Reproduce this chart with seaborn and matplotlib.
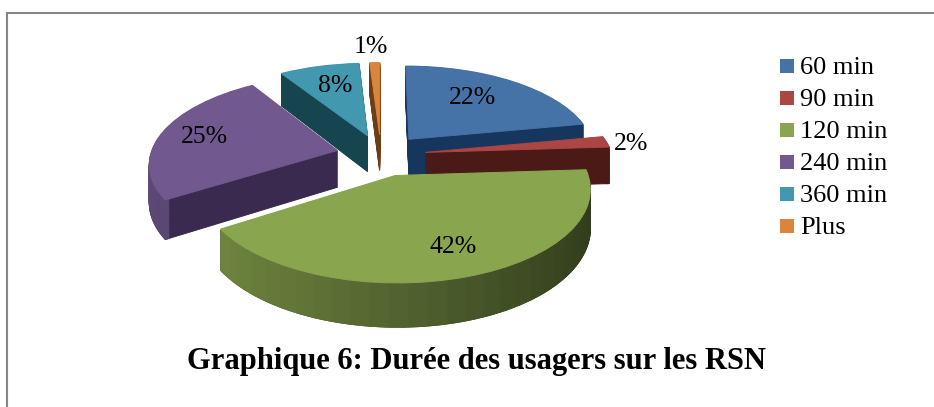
import matplotlib
matplotlib.use('Agg')
import numpy as np
import seaborn as sns
import matplotlib.pyplot as plt
from matplotlib.colors import to_rgb
from matplotlib.patches import Rectangle
from matplotlib.transforms import Transform

labels = ['60 min', '90 min', '120 min', '240 min', '360 min', 'Plus']
values = [22, 2, 42, 25, 8, 1]
pct_labels = ['22%', '2%', '42%', '25%', '8%', '1%']
colors = ['#4572A7', '#AA4643', '#89A54E', '#71588F', '#4198AF', '#DB843D']
walls = ['#17365D', '#4B1A17', '#3A4A1E', '#3A2A4F', '#16444F', '#6D3D16']
EXPLODE = 0.24
DEPTH = 37
# back slices first, the green one comes last
draw_order = [5, 4, 0, 3, 1, 2]


class Tilt(Transform):
    # flat pie -> tilted pie in pixels, far side gets smaller
    input_dims = output_dims = 2

    def __init__(self, drop=0):
        super().__init__()
        self.drop = drop

    def transform_non_affine(self, xy):
        xy = np.asarray(xy)
        s = 1 / (1 + 0.134 * xy[:, 1])
        return np.column_stack([381 + 187 * xy[:, 0] * s,
                                155 - 87 * xy[:, 1] * s + self.drop * s])


sns.set_style('white')
plt.rcParams['font.family'] = ['Liberation Serif', 'DejaVu Serif']
plt.rcParams['text.color'] = 'black'

fig = plt.figure(figsize=(9.34, 4.07), dpi=100)
ax = fig.add_axes([0, 0, 1, 1])


def draw_slice(i, start, pieces, col_list, drop, z, width=None):
    mid = np.radians((start + values[i] / 2) * 3.6)
    centre = (EXPLODE * np.sin(mid), EXPLODE * np.cos(mid))
    parts = [values[i] / pieces] * pieces + [100 - values[i]]
    props = {'linewidth': 0}
    if width:
        props['width'] = width
    wedges, _ = ax.pie(parts, center=centre, startangle=90 - start * 3.6, counterclock=False,
                       colors=col_list + ['white'], labeldistance=None, wedgeprops=props)
    wedges[-1].remove()
    tilt = Tilt(drop) + ax.transData
    for w, c in zip(wedges[:-1], col_list):
        w.set_transform(tilt)
        w.set_edgecolor(c)
        w.set_linewidth(0.7)
        w.set_zorder(z)


starts = np.cumsum([0] + values[:-1])
for rank, i in enumerate(draw_order):
    z = 10 + rank * 3
    base = np.array(to_rgb(colors[i]))
    # flat cut faces
    for d in range(DEPTH, 0, -1):
        draw_slice(i, starts[i], 1, [walls[i]], d, z)
    # curved rim, lighter on the left and darker on the right, only on the near side
    pieces = max(1, int(values[i] * 3.6 / 5))
    shades = []
    for p in range(pieces):
        ang = np.radians((starts[i] + values[i] * (p + 0.5) / pieces) * 3.6)
        if np.cos(ang) > 0.1:
            shades.append(walls[i])
        else:
            shades.append(tuple(base * (0.6 - 0.24 * np.sin(ang))))
    for d in range(DEPTH, 0, -1):
        draw_slice(i, starts[i], pieces, shades, d, z + 1, width=0.02)
    # top face
    draw_slice(i, starts[i], 1, [colors[i]], 0, z + 2)

ax.set_aspect('auto')
ax.set_xlim(0, 934)
ax.set_ylim(407, 0)
ax.axis('off')

# frame only shows on the top and left
ax.plot([7, 7, 934], [407, 13, 13], color='#868686', lw=1.5, solid_joinstyle='miter', zorder=40)

label_x = [472, 631, 453, 204, 335, 371]
label_y = [98, 144, 247, 137, 86, 47]
for txt, x, y in zip(pct_labels, label_x, label_y):
    ax.text(x, y, txt, fontsize=18.5, ha='center', va='center', zorder=50)

for i, (lab, c) in enumerate(zip(labels, colors)):
    y = 66 + i * 32
    ax.add_patch(Rectangle((780, y - 7), 14, 14, color=c, lw=0, zorder=50))
    ax.text(800, y + 2, lab, fontsize=19, ha='left', va='center', zorder=50)

ax.text(476, 361, 'Graphique 6: Durée des usagers sur les RSN', fontsize=22,
        fontweight='bold', ha='center', va='center', zorder=50)

fig.savefig('out.png', dpi=100)
